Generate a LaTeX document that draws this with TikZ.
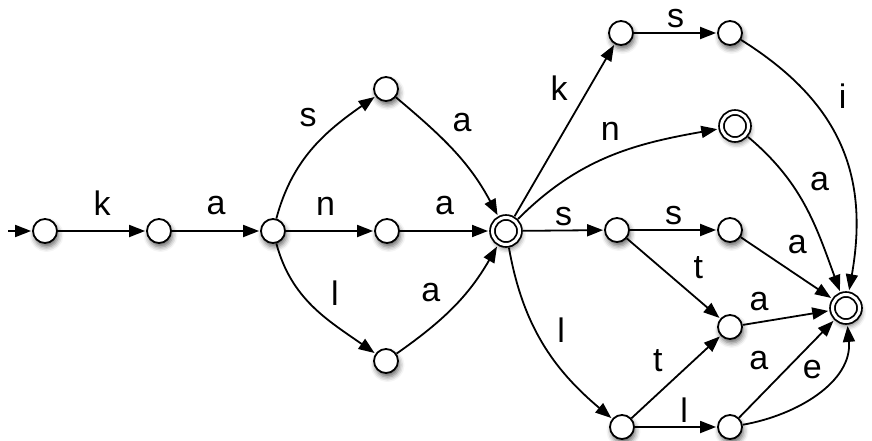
\documentclass[tikz,border=0pt]{standalone}
\usepackage{fontspec}
\setmainfont{Liberation Sans}
\usepackage{tikz}
\usetikzlibrary{automata, positioning, calc, arrows.meta, shadows.blur}

\begin{document}
\begin{tikzpicture}[%
    x=1pt, y=-1pt,      % pixel grid, y pointing down
    >={Triangle[length=16pt,width=12pt]},
    shorten >=1pt,      % small gap at the arrow tip
    auto,               % labels on the left of each edge
    line width=1.8pt,
    every state/.style={draw, fill=white, minimum size=24pt, inner sep=0pt,
        line width=1.8pt,
        blur shadow={shadow xshift=1.5pt, shadow yshift=-4pt,
                     shadow blur radius=5pt, shadow opacity=60}},
    final/.style={state, minimum size=27pt, double, double distance=3pt,
        outer sep=3.5pt},
    lbl/.style={font=\fontsize{34}{38}\selectfont, inner sep=8pt},
    far/.style={inner sep=15pt},
    near/.style={inner sep=4pt}
]
    \useasboundingbox (0,0) rectangle (872,441);

    % ==========================================
    % 1. States (Nodes)
    % ==========================================
    \node[state] (q0)  at (45, 231)  {};
    \node[state] (q1)  at (159, 231) {};
    \node[state] (q2)  at (273, 231) {};
    \node[state] (qs)  at (386, 89)  {};
    \node[state] (qn)  at (387, 231) {};
    \node[state] (ql)  at (386, 361) {};
    \node[final] (q5)  at (506, 231) {};
    \node[state] (qk)  at (621, 33)  {};
    \node[state] (qks) at (730, 33)  {};
    \node[final] (qna) at (735, 126) {};
    \node[state] (qss) at (617, 230) {};
    \node[state] (qs2) at (730, 230) {};
    \node[state] (qt)  at (730, 327) {};
    \node[state] (qlb) at (622, 427) {};
    \node[state] (qll) at (730, 427) {};
    \node[final] (qf)  at (846, 308) {};

    \coordinate (start) at (8, 231);

    % ==========================================
    % 2. Transitions (Edges)
    % ==========================================
    \draw[->] (start) -- (q0);

    \path[->]
        % --- prefix ---
        (q0) edge node[lbl, far] {k} (q1)
        (q1) edge node[lbl, far] {a} (q2)

        % --- three branches into q5 ---
        (q2) edge[out=75, in=215] node[lbl, pos=0.62] {s} (qs)
        (q2) edge node[lbl, far, pos=0.45] {n} (qn)
        (q2) edge[out=-75, in=145] node[lbl, pos=0.58] {l} (ql)
        (qs) edge[out=-40, in=118] node[lbl, pos=0.4] {a} (q5)
        (qn) edge node[lbl, far] {a} (q5)
        (ql) edge[out=35, in=240] node[lbl, pos=0.45] {a} (q5)

        % --- out of q5 ---
        (q5) edge node[lbl, pos=0.62] {k} (qk)
        (q5) edge[out=45, in=190] node[lbl, pos=0.6] {n} (qna)
        (q5) edge node[lbl, near] {s} (qss)
        (q5) edge[out=-80, in=140] node[lbl, pos=0.55] {l} (qlb)

        % --- top row ---
        (qk)  edge node[lbl, near] {s} (qks)
        (qks) edge[out=-32, in=80, looseness=1.1] node[lbl, pos=0.38, xshift=5pt] {i} (qf)
        (qna) edge[out=-40, in=110] node[lbl, pos=0.45] {a} (qf)

        % --- middle rows ---
        (qss) edge node[lbl, near] {s} (qs2)
        (qss) edge node[lbl, pos=0.62] {t} (qt)
        (qs2) edge node[lbl, pos=0.42] {a} (qf)
        (qt)  edge node[lbl, pos=0.4] {a} (qf)

        % --- bottom row ---
        (qlb) edge node[lbl, pos=0.45] {t} (qt)
        (qlb) edge node[lbl, near, pos=0.6] {l} (qll)
        (qll) edge node[lbl, pos=0.4] {a} (qf)
        (qll) edge[out=10, in=-85] node[lbl, pos=0.58, near] {e} (qf);

\end{tikzpicture}
\end{document}
